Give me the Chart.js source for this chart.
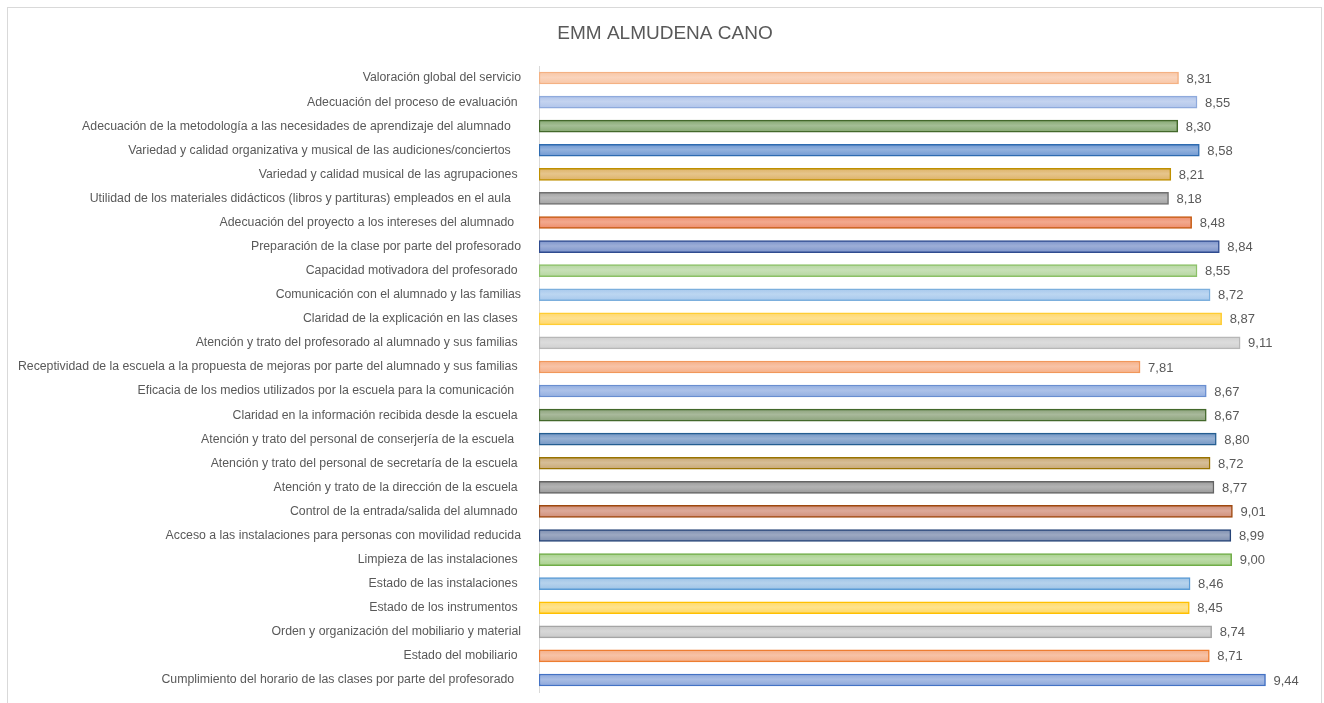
<!DOCTYPE html>
<html>
<head>
<meta charset="utf-8">
<script src="https://cdn.jsdelivr.net/npm/chart.js@4"></script>
<style>
  html, body { margin: 0; padding: 0; background: #ffffff; }
  #wrap { position: relative; width: 1324px; height: 703px; overflow: hidden; }
  #frame { position: absolute; left: 7px; top: 7px; width: 1313px; height: 720px; border: 1px solid #d9d9d9; pointer-events: none; }
  canvas { position: absolute; left: 0; top: 0; }
</style>
</head>
<body>
<div id="wrap">
  <canvas id="c" width="1324" height="703"></canvas>
  <div id="frame"></div>
</div>
<script>
const title = "EMM ALMUDENA CANO";

const categories = [
  "Valoración global del servicio",
  "Adecuación del proceso de evaluación ",
  "Adecuación de la metodología a las necesidades de aprendizaje del alumnado   ",
  "Variedad y calidad organizativa y musical de las audiciones/conciertos   ",
  "Variedad y calidad musical de las agrupaciones ",
  "Utilidad de los materiales didácticos (libros y partituras) empleados en el aula   ",
  "Adecuación del proyecto a los intereses del alumnado  ",
  "Preparación de la clase por parte del profesorado",
  "Capacidad motivadora del profesorado ",
  "Comunicación con el alumnado y las familias",
  "Claridad de la explicación en las clases ",
  "Atención y trato del profesorado al alumnado y sus familias ",
  "Receptividad de la escuela a la propuesta de mejoras por parte del alumnado y sus familias ",
  "Eficacia de los medios utilizados por la escuela para la comunicación  ",
  "Claridad en la información recibida desde la escuela ",
  "Atención y trato del personal de conserjería de la escuela  ",
  "Atención y trato del personal de secretaría de la escuela ",
  "Atención y trato de la dirección de la escuela ",
  "Control de la entrada/salida del alumnado ",
  "Acceso a las instalaciones para personas con movilidad reducida",
  "Limpieza de las instalaciones ",
  "Estado de las instalaciones ",
  "Estado de los instrumentos ",
  "Orden y organización del mobiliario y material",
  "Estado del mobiliario ",
  "Cumplimiento del horario de las clases por parte del profesorado  "
];

const values = [
  8.31, 8.55, 8.30, 8.58, 8.21, 8.18, 8.48, 8.84, 8.55, 8.72, 8.87, 9.11, 7.81,
  8.67, 8.67, 8.80, 8.72, 8.77, 9.01, 8.99, 9.00, 8.46, 8.45, 8.74, 8.71, 9.44
];

const fillColors = [
  "#F8C6A6", "#B0C4EA", "#86A872", "#6F98D2", "#DDB266", "#A3A3A3", "#EE8C6A",
  "#7C93CA", "#B5D6A0", "#A6C8EC", "#FFD76A", "#D0D0D0", "#F5AF88", "#92AEE0",
  "#8BA27A", "#7497C4", "#C8A874", "#9A9A9A", "#D08E78", "#7C8CAE", "#A8D08D",
  "#9DC3E6", "#FFD966", "#C9C9C9", "#F4AE88", "#8CA7DB"
];

const borderColors = [
  "#F4B183", "#8FAADC", "#43682B", "#2E6BB0", "#BF9000", "#707070", "#C55A11",
  "#2F4B8F", "#8CC168", "#7CAFDD", "#FFCD33", "#B7B7B7", "#F1975A", "#698ED0",
  "#43682B", "#255E91", "#997300", "#636363", "#9E480E", "#264478", "#70AD47",
  "#5B9BD5", "#FFC000", "#A5A5A5", "#ED7D31", "#4472C4"
];

const BAR_H = 12;
const FONT = '"Liberation Sans", Arial, sans-serif';

function lighten(hex, f) {
  const n = parseInt(hex.slice(1), 16);
  let r = (n >> 16) & 255, g = (n >> 8) & 255, b = n & 255;
  r = Math.round(r + (255 - r) * f); g = Math.round(g + (255 - g) * f); b = Math.round(b + (255 - b) * f);
  return `rgb(${r},${g},${b})`;
}

const valueLabels = {
  id: 'valueLabels',
  afterDatasetsDraw(chart) {
    const ctx = chart.ctx;
    const meta = chart.getDatasetMeta(0);
    ctx.save();
    ctx.font = '13px ' + FONT;
    ctx.fillStyle = '#595959';
    ctx.textAlign = 'left';
    ctx.textBaseline = 'middle';
    meta.data.forEach((el, i) => {
      const v = chart.data.datasets[0].data[i];
      ctx.fillText(v.toFixed(2).replace('.', ','), el.x + 8, el.y + 1);
    });
    ctx.restore();
  }
};

new Chart(document.getElementById('c'), {
  type: 'bar',
  data: {
    labels: categories,
    datasets: [{
      data: values,
      backgroundColor: (ctx) => {
        const ch = ctx.chart;
        const i = ctx.dataIndex;
        const base = fillColors[i % fillColors.length];
        const ys = ch.scales && ch.scales.y;
        if (!ys || !ch.chartArea || i === undefined) return base;
        const y = ys.getPixelForValue(i);
        const g = ch.ctx.createLinearGradient(0, y - BAR_H / 2, 0, y + BAR_H / 2);
        g.addColorStop(0, base);
        g.addColorStop(0.45, lighten(base, 0.25));
        g.addColorStop(1, base);
        return g;
      },
      borderColor: borderColors,
      borderWidth: 1.5,
      borderSkipped: false,
      barThickness: BAR_H
    }]
  },
  options: {
    indexAxis: 'y',
    responsive: false,
    animation: false,
    devicePixelRatio: 1,
    layout: { padding: { left: 6, right: 0, top: 0, bottom: 11 } },
    plugins: {
      legend: { display: false },
      tooltip: { enabled: false },
      title: {
        display: true,
        text: title,
        color: '#595959',
        font: { family: FONT, size: 19, weight: 'normal' },
        padding: { top: 22.6, bottom: 20.6 }
      }
    },
    scales: {
      x: {
        display: false,
        min: 0,
        max: 10.2
      },
      y: {
        afterFit: (s) => { s.width = 533; s.paddingTop = 0; s.paddingBottom = 0; },
        grid: { display: false, drawTicks: false },
        border: { display: true, color: '#d9d9d9', width: 1 },
        ticks: {
          color: '#595959',
          padding: 18,
          autoSkip: false,
          font: { family: FONT, size: 12.3 }
        }
      }
    }
  },
  plugins: [valueLabels]
});
</script>
</body>
</html>
